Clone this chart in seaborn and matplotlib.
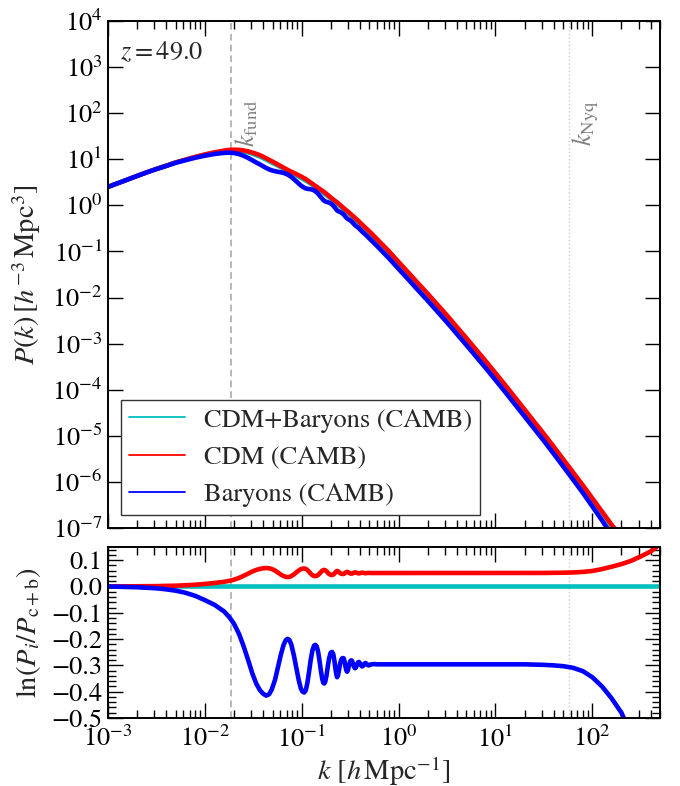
import numpy as np
import pandas as pd
import matplotlib
matplotlib.use("Agg")
import matplotlib.pyplot as plt
import seaborn as sns
from matplotlib.lines import Line2D
from matplotlib.ticker import MultipleLocator, LogLocator, NullFormatter

# ---------------- data ----------------
k = [0.001, 0.00126, 0.00158, 0.002, 0.0025, 0.00316, 0.004, 0.005, 0.0063, 0.008,
     0.01, 0.0126, 0.0158, 0.018, 0.02, 0.0225, 0.025, 0.028, 0.031, 0.034,
     0.037, 0.040, 0.043, 0.046, 0.049, 0.053, 0.057, 0.061, 0.065, 0.0685,
     0.0714, 0.0745, 0.078, 0.083, 0.088, 0.093, 0.098, 0.102, 0.106, 0.110,
     0.114, 0.119, 0.124, 0.129, 0.134, 0.138, 0.143, 0.148, 0.153, 0.158,
     0.163, 0.167, 0.171, 0.175, 0.180, 0.186, 0.192, 0.199, 0.206, 0.212,
     0.218, 0.224, 0.229, 0.232, 0.237, 0.243, 0.250, 0.257, 0.264, 0.271,
     0.277, 0.283, 0.289, 0.294, 0.300, 0.307, 0.315, 0.322, 0.330, 0.338,
     0.346, 0.355, 0.364, 0.373, 0.382, 0.390, 0.400, 0.410, 0.420, 0.432,
     0.444, 0.455, 0.467, 0.480, 0.495, 0.52, 0.56, 0.6, 0.7, 0.8,
     1.0, 1.3, 1.6, 2.0, 2.5, 3.16, 4.0, 5.0, 6.3, 8.0,
     10, 12.6, 15.8, 20, 25, 31.6, 40, 50, 63, 80,
     100, 126, 158, 200, 250, 316, 400, 500]

# log10 of P_{c+b}(k) [h^-3 Mpc^3]
log10_p_cb = [0.40, 0.48, 0.56, 0.64, 0.715, 0.79, 0.86, 0.93, 0.99, 1.05,
              1.10, 1.145, 1.18, 1.195, 1.197, 1.19, 1.175, 1.15, 1.12, 1.09,
              1.06, 1.025, 0.99, 0.96, 0.93, 0.895, 0.86, 0.83, 0.80, 0.775,
              0.755, 0.735, 0.713, 0.683, 0.655, 0.627, 0.60, 0.58, 0.56, 0.54,
              0.52, 0.495, 0.47, 0.446, 0.422, 0.404, 0.381, 0.358, 0.336, 0.314,
              0.293, 0.276, 0.26, 0.244, 0.224, 0.20, 0.177, 0.151, 0.126, 0.105,
              0.085, 0.065, 0.049, 0.039, 0.023, 0.004, -0.018, -0.039, -0.06, -0.08,
              -0.097, -0.114, -0.13, -0.143, -0.159, -0.177, -0.197, -0.215, -0.235, -0.254,
              -0.273, -0.294, -0.315, -0.335, -0.355, -0.373, -0.394, -0.415, -0.436, -0.46,
              -0.484, -0.505, -0.528, -0.552, -0.58, -0.624, -0.692, -0.755, -0.90, -1.025,
              -1.25, -1.51, -1.72, -1.94, -2.17, -2.41, -2.66, -2.90, -3.15, -3.41,
              -3.66, -3.92, -4.18, -4.45, -4.71, -4.98, -5.26, -5.53, -5.81, -6.10,
              -6.38, -6.67, -6.96, -7.25, -7.54, -7.84, -8.14, -8.43]

# ln(P_i / P_{c+b})
lnr_cb = [0.0] * 128

lnr_cdm = [0.000, 0.0002, 0.0004, 0.0006, 0.001, 0.0013, 0.002, 0.003, 0.0046, 0.0067,
           0.0097, 0.0133, 0.0178, 0.0215, 0.0257, 0.0325, 0.0400, 0.0490, 0.0570, 0.0630,
           0.0667, 0.0690, 0.0701, 0.0693, 0.0664, 0.0605, 0.0526, 0.0451, 0.0394, 0.0366,
           0.0357, 0.0364, 0.0391, 0.0458, 0.0534, 0.0605, 0.0658, 0.0677, 0.0682, 0.0669,
           0.0629, 0.0558, 0.0483, 0.0427, 0.0399, 0.0394, 0.0404, 0.0438, 0.0494, 0.0553,
           0.0601, 0.0623, 0.0628, 0.0617, 0.0582, 0.0523, 0.0473, 0.0442, 0.0437, 0.0451,
           0.0494, 0.0547, 0.0578, 0.0590, 0.0578, 0.0542, 0.0502, 0.0481, 0.0473, 0.0475,
           0.0494, 0.0526, 0.0548, 0.0556, 0.0546, 0.0521, 0.0497, 0.0488, 0.0489, 0.0505,
           0.0526, 0.0535, 0.0529, 0.0512, 0.0499, 0.0497, 0.0505, 0.0518, 0.0524, 0.0519,
           0.0508, 0.0503, 0.0508, 0.0516, 0.0518, 0.0511, 0.0511, 0.0511, 0.0511, 0.0511,
           0.0511, 0.0511, 0.0511, 0.0511, 0.0511, 0.0511, 0.0511, 0.0511, 0.0511, 0.0511,
           0.0511, 0.0511, 0.0511, 0.0511, 0.0513, 0.0514, 0.0518, 0.0523, 0.0532, 0.0553,
           0.0589, 0.066, 0.075, 0.085, 0.097, 0.114, 0.133, 0.160]

lnr_bar = [0.000, -0.001, -0.002, -0.003, -0.005, -0.007, -0.011, -0.016, -0.024, -0.036,
           -0.052, -0.070, -0.095, -0.118, -0.142, -0.180, -0.225, -0.280, -0.332, -0.370,
           -0.394, -0.408, -0.415, -0.410, -0.392, -0.355, -0.305, -0.258, -0.222, -0.204,
           -0.199, -0.203, -0.220, -0.262, -0.310, -0.355, -0.388, -0.400, -0.403, -0.395,
           -0.370, -0.325, -0.278, -0.243, -0.225, -0.222, -0.228, -0.250, -0.285, -0.322,
           -0.352, -0.366, -0.369, -0.362, -0.340, -0.303, -0.272, -0.252, -0.249, -0.258,
           -0.285, -0.318, -0.338, -0.345, -0.338, -0.315, -0.290, -0.277, -0.272, -0.273,
           -0.285, -0.305, -0.319, -0.324, -0.318, -0.302, -0.287, -0.281, -0.282, -0.292,
           -0.305, -0.311, -0.307, -0.296, -0.288, -0.287, -0.292, -0.300, -0.304, -0.301,
           -0.294, -0.291, -0.294, -0.299, -0.300, -0.296, -0.295, -0.296, -0.296, -0.296,
           -0.296, -0.296, -0.296, -0.296, -0.296, -0.296, -0.296, -0.296, -0.296, -0.296,
           -0.296, -0.296, -0.296, -0.296, -0.297, -0.298, -0.300, -0.303, -0.309, -0.322,
           -0.345, -0.380, -0.425, -0.480, -0.560, -0.680, -0.860, -1.120]

series_labels = ["CDM+Baryons (CAMB)", "CDM (CAMB)", "Baryons (CAMB)"]
series_colors = ["#00bfbf", "#ff0000", "#0000ff"]
k_fund = 0.0187
k_nyq = 56.8
redshift_text = r"$z = 49.0$"

# ---------------- build table ----------------
kk = np.array(k)
p_cb = 10.0 ** np.array(log10_p_cb)
ratios = [np.array(lnr_cb), np.array(lnr_cdm), np.array(lnr_bar)]
frames = []
for lab, r in zip(series_labels, ratios):
    frames.append(pd.DataFrame({"k": kk, "P": p_cb * np.exp(r), "lnr": r, "series": lab}))
df = pd.concat(frames, ignore_index=True)

# ---------------- style ----------------
FS_TICK = 19
FS_LAB = 20.5
sns.set_style("ticks")
plt.rcParams.update({
    "font.family": ["STIXGeneral", "DejaVu Serif"],
    "mathtext.fontset": "stix",
    "font.size": FS_TICK,
    "axes.linewidth": 1.4,
    "axes.edgecolor": "black",
    "xtick.direction": "in", "ytick.direction": "in",
    "xtick.top": True, "ytick.right": True,
    "xtick.major.size": 11, "xtick.minor.size": 5.5,
    "ytick.major.size": 11, "ytick.minor.size": 5.5,
    "xtick.major.width": 1.0, "xtick.minor.width": 1.0,
    "ytick.major.width": 1.0, "ytick.minor.width": 1.0,
    "xtick.major.pad": 6, "ytick.major.pad": 4,
    "xtick.labelsize": FS_TICK, "ytick.labelsize": FS_TICK,
    "xtick.color": "black", "ytick.color": "black",
    "axes.unicode_minus": True,
})

fig = plt.figure(figsize=(6.8, 7.86), dpi=100)
ax1 = fig.add_axes([108/680, 1-528/786, 552/680, 507/786])
ax2 = fig.add_axes([108/680, 1-718/786, 552/680, 171/786])

lw = 3.3
for lab, col in zip(series_labels, series_colors):
    sub = df[df["series"] == lab]
    sns.lineplot(data=sub, x="k", y="P", ax=ax1, color=col, lw=lw,
                 estimator=None, sort=False, legend=False)
    sns.lineplot(data=sub, x="k", y="lnr", ax=ax2, color=col, lw=lw,
                 estimator=None, sort=False, legend=False)

for ax in (ax1, ax2):
    ax.set_xscale("log")
    ax.set_xlim(1e-3, 500)
    ax.axvline(k_fund, color="#aaaaaa", ls=(0, (4, 2.5)), lw=1.2, zorder=0)
    ax.axvline(k_nyq, color="#cccccc", ls=":", lw=1.0, zorder=0)
    ax.xaxis.set_major_locator(LogLocator(base=10, numticks=20))
    ax.xaxis.set_minor_locator(LogLocator(base=10, subs=np.arange(2, 10), numticks=20))
    ax.xaxis.set_minor_formatter(NullFormatter())
    ax.tick_params(which="both", direction="in", top=True, right=True)

ax1.set_yscale("log")
ax1.set_ylim(1e-7, 1e4)
ax1.yaxis.set_major_locator(LogLocator(base=10, numticks=20))
ax1.yaxis.set_minor_locator(plt.NullLocator())
ax1.tick_params(labelbottom=False)
ax1.set_xlabel("")
ax1.set_ylabel(r"$P(k)\,[h^{-3}\,\mathrm{Mpc}^3]$", fontsize=FS_LAB)
ax1.yaxis.set_label_coords(-0.118, 0.5)

ax1.text(0.022, 0.962, redshift_text, transform=ax1.transAxes, ha="left", va="top",
         fontsize=FS_TICK)
ax1.text(k_fund * 1.06, 10**1.78, r"$k_{\rm fund}$", rotation=90, color="gray",
         ha="left", va="center", fontsize=FS_TICK)
ax1.text(k_nyq * 1.06, 10**1.78, r"$k_{\rm Nyq}$", rotation=90, color="gray",
         ha="left", va="center", fontsize=FS_TICK)

handles = [Line2D([], [], color=c, lw=1.3) for c in series_colors]
leg = ax1.legend(handles, series_labels, loc="lower left", fancybox=False,
                 frameon=True, framealpha=1, edgecolor="#333333",
                 borderaxespad=0.5, handlelength=2.1, handletextpad=0.75,
                 labelspacing=0.48, borderpad=0.3, fontsize=FS_TICK)
leg.get_frame().set_linewidth(1.0)

ax2.set_ylim(-0.5, 0.15)
ax2.yaxis.set_major_locator(MultipleLocator(0.1))
ax2.yaxis.set_minor_locator(MultipleLocator(0.02))
ax2.set_ylabel(r"$\ln(P_i/P_{\rm c+b})$", fontsize=FS_LAB)
ax2.yaxis.set_label_coords(-0.118, 0.5)
ax2.set_xlabel(r"$k\ [h\,\mathrm{Mpc}^{-1}]$", fontsize=FS_LAB, labelpad=1)

fig.savefig("out.png", dpi=100)
